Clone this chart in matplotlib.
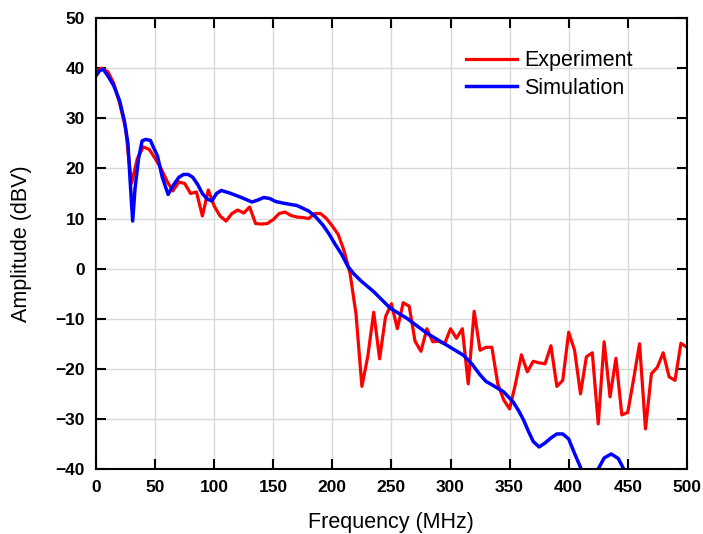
import numpy as np
import matplotlib
matplotlib.use("Agg")
import matplotlib.pyplot as plt

# experiment: sampled every 5 MHz
freq_exp = list(range(0, 505, 5))
amp_exp = [39.5, 40, 39.3, 37, 33, 28, 17, 22, 24.3, 23.8,
           22, 20, 17.5, 15.5, 17.3, 17, 15, 15.3, 10.5, 15.7,
           12.5, 10.5, 9.5, 11, 11.7, 11.1, 12.3, 9, 8.9, 9,
           9.8, 11, 11.3, 10.6, 10.3, 10.2, 10, 11, 11, 10,
           8.5, 6.8, 3.5, -1, -9, -23.5, -17.5, -8.7, -18, -9.6,
           -7, -12, -6.8, -7.5, -14.5, -16.5, -12, -14.6, -14.5, -15,
           -12, -13.9, -12, -23, -8.5, -16.3, -15.7, -15.7, -23, -26.2,
           -28, -23, -17.2, -20.6, -18.5, -18.8, -19, -15.4, -23.5, -22.3,
           -12.7, -16.3, -25, -17.6, -16.8, -31, -14.6, -25.6, -17.9, -29.2,
           -28.7, -22, -15, -32, -21, -19.7, -16.8, -21.6, -22.3, -14.9,
           -15.7]

# simulation
freq_sim = [0, 3, 6, 10, 15, 20, 24, 27, 29, 31, 33, 36, 39, 42, 46, 49, 52,
            56, 61, 65, 70, 74, 78, 82, 86, 90, 94, 98, 102, 106, 113, 122,
            132, 137, 142, 147, 152, 160, 170, 180, 186, 192, 197, 202, 208,
            213, 218, 224, 235, 249, 263, 280, 297, 311, 318, 325, 330, 338,
            345, 353, 358, 362, 366, 370, 375, 380, 385, 390, 395, 400, 405,
            411, 418, 425, 430, 436, 442, 447, 455, 470, 485, 500]
amp_sim = [38.5, 39.5, 39.8, 38.5, 36.5, 33.5, 29.5, 25, 17, 9.5, 16, 22,
           25.5, 25.8, 25.6, 24, 22.5, 18.3, 14.8, 16.5, 18.2, 18.8, 18.8,
           18.2, 16.8, 15, 13.9, 13.5, 15, 15.6, 15.1, 14.3, 13.3, 13.7,
           14.2, 14, 13.4, 13, 12.6, 11.5, 10.3, 8.7, 7, 5, 2.8, 0.5, -1,
           -2.4, -4.6, -7.9, -9.9, -12.9, -15.3, -17.3, -19, -21.2, -22.5,
           -23.6, -24.6, -26.6, -28.5, -30.3, -32.5, -34.5, -35.6, -34.8,
           -33.8, -33, -33, -34, -36.9, -40.2, -42, -40, -37.8, -37, -37.9,
           -40.2, -43, -46, -47, -48]

xticks = list(range(0, 501, 50))
yticks = list(range(-40, 51, 10))

plt.rcParams['font.family'] = ['Liberation Sans', 'DejaVu Sans']

fig = plt.figure(figsize=(7.03, 5.34), dpi=100)
ax = fig.add_axes([0.1366, 0.1217, 0.8404, 0.8443])

ax.plot(freq_exp, amp_exp, color='#ff0000', lw=2.3, label='Experiment')
ax.plot(freq_sim, amp_sim, color='#0000ff', lw=2.5, label='Simulation')

ax.set_xlim(0, 500)
ax.set_ylim(-40, 50)
ax.set_xticks(xticks)
ax.set_yticks(yticks)
ax.grid(True, color='#d9d9d9', lw=1)
ax.set_axisbelow(True)

ax.tick_params(direction='in', length=7, width=1.5, top=True, right=True,
               labelsize=12.5, pad=8)
for lab in ax.get_xticklabels() + ax.get_yticklabels():
    lab.set_fontweight('bold')
for s in ax.spines.values():
    s.set_linewidth(1.5)

ax.set_xlabel('Frequency (MHz)', fontsize=15.5, labelpad=12)
ax.set_ylabel('Amplitude (dBV)', fontsize=15.5, labelpad=17)

ax.legend(loc='upper left', frameon=False, fontsize=15.5,
          bbox_to_anchor=(0.626, 0.929), borderaxespad=0, borderpad=0,
          handlelength=2.37, handletextpad=0.35, labelspacing=0.3)

fig.savefig('out.png', dpi=100)
